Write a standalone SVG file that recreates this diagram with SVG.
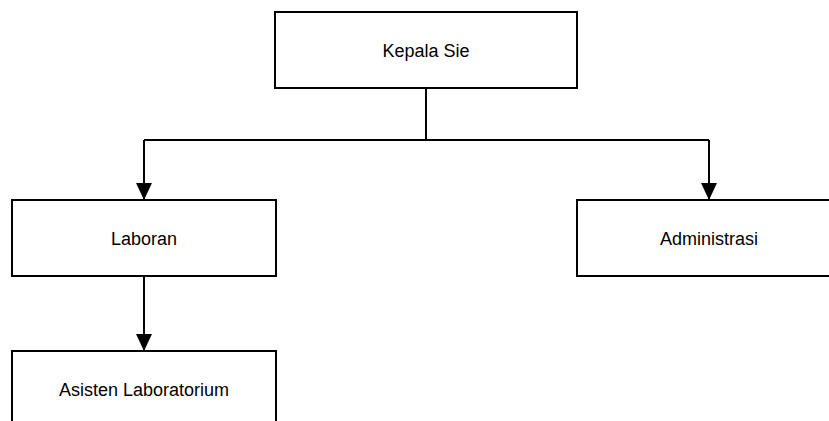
<svg xmlns="http://www.w3.org/2000/svg" width="829" height="421" viewBox="0 0 829 421">
<style>
.box{fill:#fff;stroke:#000;stroke-width:2}
.lbl{font-family:"Liberation Sans",Arial,sans-serif;font-size:18px;fill:#000;text-anchor:middle}
.con{fill:none;stroke:#000;stroke-width:2}
</style>
<defs>
<marker id="ah" markerUnits="userSpaceOnUse" markerWidth="18" markerHeight="18" refX="17" refY="8" orient="auto" viewBox="0 0 18 16">
<path d="M0,0 L17,8 L0,16 Z" fill="#000"/>
</marker>
</defs>
<g id="connectors">
<path class="con" d="M426,88 V140"/>
<path class="con" d="M144,140 H709"/>
<path class="con" d="M144,140 V200" marker-end="url(#ah)"/>
<path class="con" d="M709,140 V200" marker-end="url(#ah)"/>
<path class="con" d="M144,276 V351" marker-end="url(#ah)"/>
</g>
<g id="kepala-sie">
<rect class="box" x="275" y="12" width="302" height="76"/>
<text class="lbl" x="426" y="57">Kepala Sie</text>
</g>
<g id="laboran">
<rect class="box" x="12" y="200" width="264" height="76"/>
<text class="lbl" x="144" y="245">Laboran</text>
</g>
<g id="administrasi">
<rect class="box" x="577" y="200" width="264" height="76"/>
<text class="lbl" x="709" y="245">Administrasi</text>
</g>
<g id="asisten-laboratorium">
<rect class="box" x="12" y="351" width="264" height="76"/>
<text class="lbl" x="144" y="396">Asisten Laboratorium</text>
</g>
</svg>
